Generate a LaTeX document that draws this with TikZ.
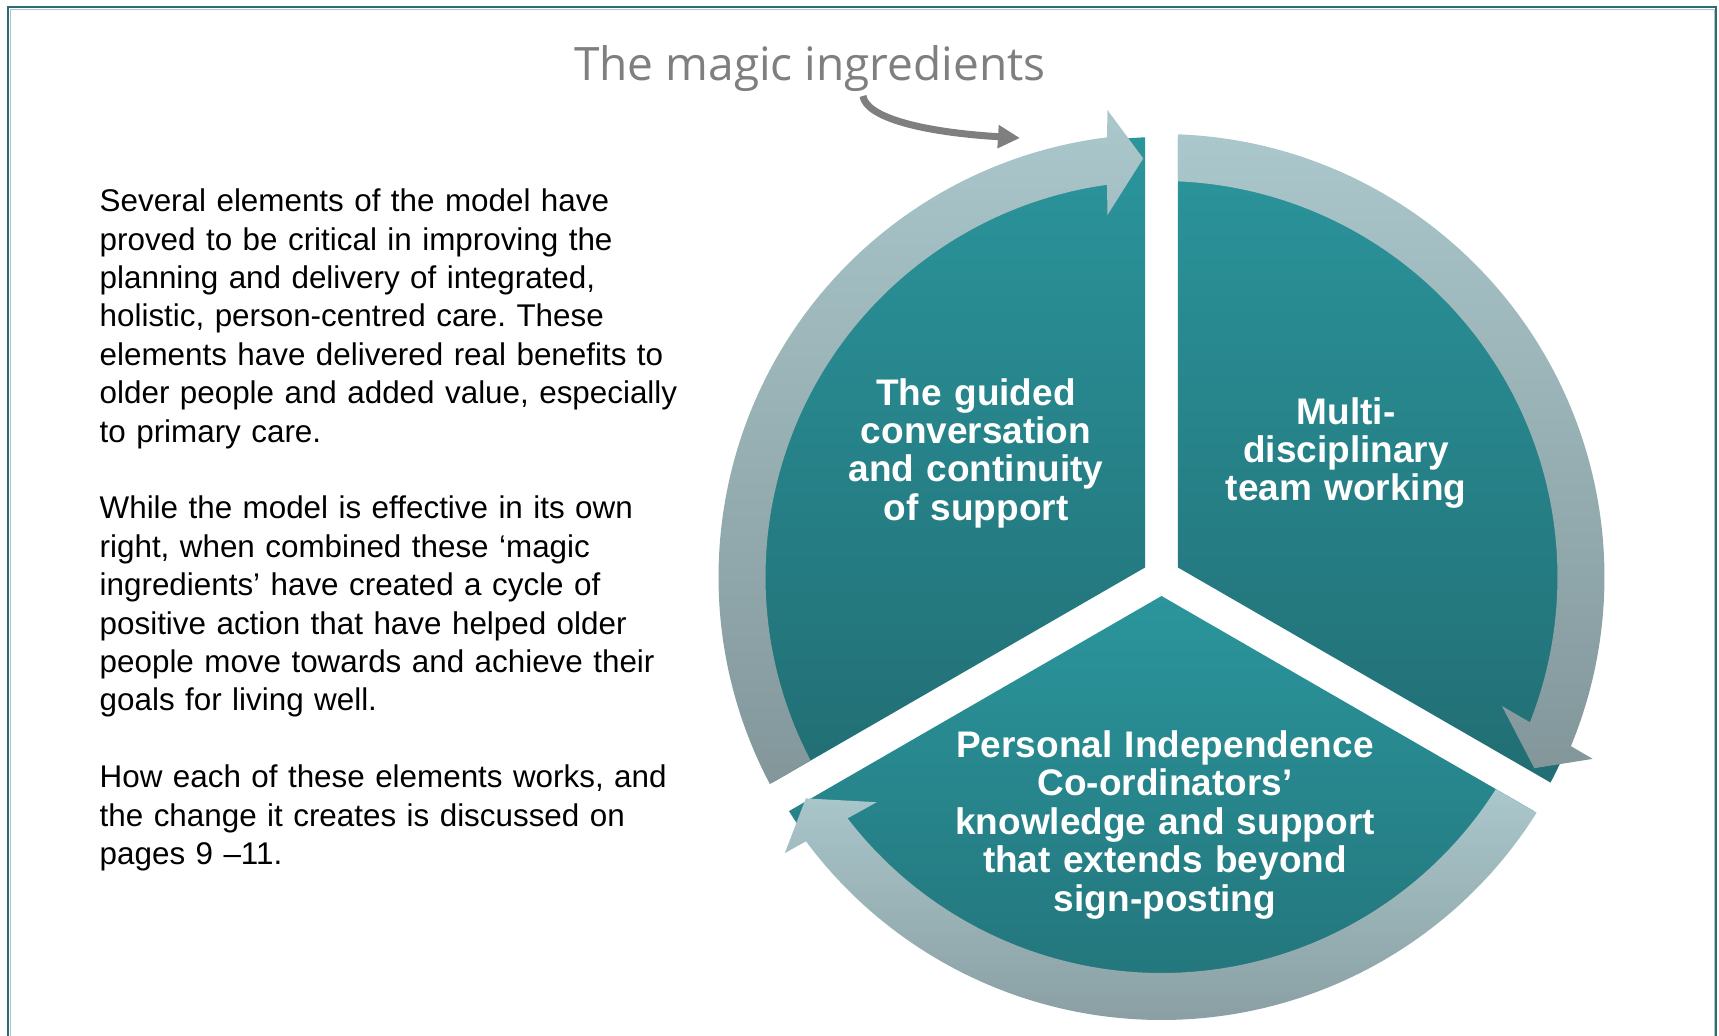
\documentclass[tikz,border=0pt]{standalone}
\usepackage{fontspec}
\setmainfont{Liberation Sans}
\newfontfamily\titlefont{Open Sans}
\usetikzlibrary{arrows.meta}
\frenchspacing

\definecolor{frameteal}{HTML}{2F6B70}
\definecolor{framelight}{HTML}{A8C8CB}
\definecolor{tealtop}{HTML}{2B959C}
\definecolor{tealbot}{HTML}{216E74}
\definecolor{ringtop}{HTML}{AAC7CB}
\definecolor{ringbot}{HTML}{83979B}
\definecolor{titlegray}{HTML}{7F7F7F}

\tikzset{
  segment/.style={top color=tealtop, bottom color=tealbot},
  ringarrow/.style={top color=ringtop, bottom color=ringbot},
  seglabel/.style={text=white, text width=4.8cm, align=center, anchor=base, inner sep=0pt,
    font=\fontsize{10.53pt}{10.93pt}\selectfont\bfseries},
  titletext/.style={text=titlegray, anchor=base, inner sep=0pt,
    font=\titlefont\fontsize{13.1pt}{15pt}\selectfont},
  bodytext/.style={text=black, text width=6.4cm, align=left, anchor=base west, inner sep=0pt,
    font=\fontsize{8.93pt}{10.93pt}\selectfont},
  pointer/.style={draw=titlegray, line width=0.07cm, -{Triangle[length=0.22cm,width=0.22cm]}}
}

\begin{document}
\begin{tikzpicture}
\useasboundingbox (0,0) rectangle (17.19,10.35);
\fill[white] (0,0) rectangle (17.19,10.35);

% frame
\begin{scope}
\clip (0,0) rectangle (17.19,10.35);
\draw[frameteal, line width=0.025cm] (0.08,-1) |- (17.16,10.28) -- (17.16,-1);
\draw[framelight, line width=0.01cm] (0.10,-1) |- (17.14,10.26) -- (17.14,-1);
\end{scope}

% title and its pointer
\node[titletext] (title) at (8.10,9.55) {The magic ingredients};
\coordinate (magicstart) at (8.63,9.39);
\coordinate (magicend) at (10.20,8.97);
\draw[pointer] (magicstart) .. controls (8.66,9.18) and (9.20,9.03) .. (magicend);

% text on the left
\node[bodytext] (intro) at (0.99,8.234) {Several elements of the model have\\
proved to be critical in improving the\\
planning and delivery of integrated,\\
holistic, person-centred care. These\\
elements have delivered real benefits to\\
older people and added value, especially\\
to primary care.\\[10.93pt]
While the model is effective in its own\\
right, when combined these ‘magic\\
ingredients’ have created a cycle of\\
positive action that have helped older\\
people move towards and achieve their\\
goals for living well.\\[10.93pt]
How each of these elements works, and\\
the change it creates is discussed on\\
pages 9 --11.};

% the cycle
\begin{scope}[shift={(11.615,4.58)}]
\shade[segment] (150:0.19) -- (92.15:4.40) arc[start angle=92.15, end angle=207.85, radius=4.40] -- cycle;
\shade[segment] (30:0.19) -- (87.85:4.40) arc[start angle=87.85, end angle=-27.85, radius=4.40] -- cycle;
\shade[segment] (270:0.19) -- (212.15:4.40) arc[start angle=212.15, end angle=327.85, radius=4.40] -- cycle;
% arrows round the rim
\shade[ringarrow] (207.865:4.43) arc[start angle=207.865, end angle=97.07, radius=4.43]
  -- (96.6:4.70) -- (92.5:4.19) -- (98.5:3.66) -- (97.9:3.96)
  arc[start angle=97.9, end angle=207.61, radius=3.96] -- cycle;
\shade[ringarrow] (87.865:4.43) arc[start angle=87.865, end angle=-22.45, radius=4.43]
  -- (-22.87:4.68) -- (-27.15:4.19) -- (-20.75:3.64) -- (-21.52:3.96)
  arc[start angle=-21.52, end angle=87.61, radius=3.96] -- cycle;
\shade[ringarrow, bottom color=ringbot!85!ringtop] (327.865:4.43) arc[start angle=327.865, end angle=216.63, radius=4.43]
  -- (216.24:4.67) -- (211.9:4.19) -- (218.34:3.63) -- (217.55:3.96)
  arc[start angle=217.55, end angle=327.61, radius=3.96] -- cycle;
\end{scope}

% labels
\node[seglabel] (guided) at (9.76,6.30) {The guided\\ conversation\\ and continuity\\ of support};
\node[seglabel] (teamwork) at (13.46,6.11) {Multi-\\ disciplinary\\ team working};
\node[seglabel] (picoord) at (11.65,2.775) {Personal Independence\\ Co-ordinators’\\ knowledge and support\\ that extends beyond\\ sign-posting};
\end{tikzpicture}
\end{document}
